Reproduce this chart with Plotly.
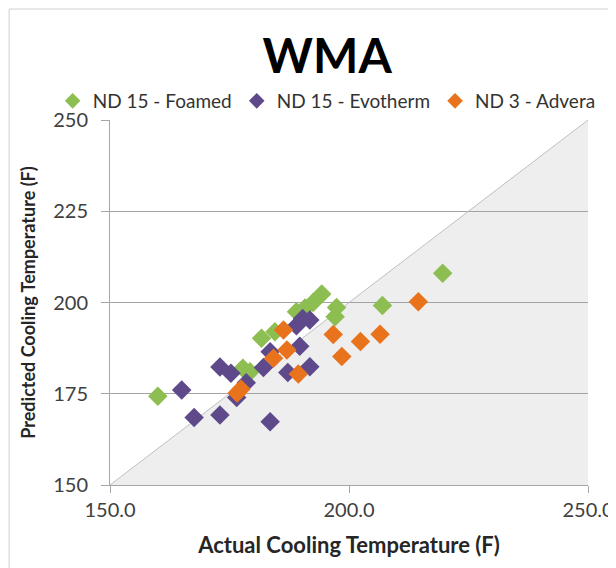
import plotly.graph_objects as go

# ---- data ----
foamed_x = [160.0, 177.8, 179.3, 181.7, 184.5, 189.0, 190.8, 192.5, 194.3, 197.4, 197.1, 207.0, 219.6]
foamed_y = [174.3, 182.0, 181.0, 190.2, 192.0, 197.5, 198.5, 200.0, 202.3, 198.6, 196.1, 199.2, 208.0]

evo_x = [165.0, 167.6, 173.0, 173.0, 175.3, 178.5, 176.5, 183.5, 182.1, 183.5, 187.2, 191.8, 189.7, 190.3, 191.8, 189.0]
evo_y = [176.0, 168.5, 169.2, 182.3, 180.6, 178.0, 174.0, 167.3, 182.2, 186.5, 180.8, 182.4, 188.0, 195.6, 195.2, 193.6]

adv_x = [176.6, 177.4, 184.2, 186.3, 187.0, 189.4, 196.7, 198.5, 202.4, 206.5, 214.5]
adv_y = [175.2, 176.3, 184.7, 192.5, 187.0, 180.4, 191.2, 185.2, 189.3, 191.3, 200.2]

series_names = ["ND 15 - Foamed", "ND 15 - Evotherm", "ND 3 - Advera"]
axis_range = [150, 250]
x_ticks = [150, 200, 250]
y_ticks = [150, 175, 200, 225, 250]

colors = ["#8DBE52", "#5E4A8A", "#E8731C"]
FONT = "Lato, 'Open Sans', sans-serif"

fig = go.Figure()

lo, hi = axis_range
# 1:1 line
fig.add_trace(go.Scatter(
    x=[lo, hi], y=[lo, hi], mode="lines",
    line=dict(color="#BFBFBF", width=1), hoverinfo="skip", showlegend=False))

for name, xs, ys, c in zip(series_names, [foamed_x, evo_x, adv_x], [foamed_y, evo_y, adv_y], colors):
    fig.add_trace(go.Scatter(
        x=xs, y=ys, mode="markers", name=name,
        marker=dict(symbol="diamond", size=15, color=c, line=dict(width=0))))

fig.update_layout(
    width=608, height=560,
    margin=dict(l=102, r=28, t=112, b=83, autoexpand=False),
    paper_bgcolor="white", plot_bgcolor="white",
    font=dict(family=FONT, color="#404040", size=18),
    title=dict(text="<b>WMA</b>", xref="container", x=0.525, xanchor="center",
               yref="container", y=1 - 48 / 560, yanchor="middle",
               font=dict(family=FONT, size=48, color="black")),
    legend=dict(orientation="h", x=-0.12, xanchor="left", y=1.052, yanchor="middle",
                font=dict(family=FONT, size=19, color="#333333"),
                itemwidth=30, tracegroupgap=0, itemsizing="constant",
                bgcolor="rgba(0,0,0,0)"),
    showlegend=True,
    shapes=[
        # shaded region below the 1:1 line (under the gridlines)
        dict(type="path", xref="x", yref="y",
             path=f"M {lo} {lo} L {hi} {hi} L {hi} {lo} Z",
             fillcolor="#EEEEEE", line=dict(width=0), layer="below"),
        # outer chart border (top and left visible)
        dict(type="rect", xref="paper", yref="paper",
             x0=-0.211, x1=1.2, y0=-0.5, y1=1.304,
             line=dict(color="#D0D0D0", width=1), fillcolor="rgba(0,0,0,0)", layer="below"),
    ],
)

fig.update_xaxes(
    range=axis_range, tickvals=x_ticks, tickformat=".1f", automargin=False,
    showgrid=False, zeroline=False,
    showline=True, linecolor="#A6A6A6", linewidth=1,
    ticks="outside", ticklen=7, tickcolor="#A6A6A6",
    tickfont=dict(size=20, color="#404040"),
    title=dict(text="<b>Actual Cooling Temperature (F)</b>", font=dict(size=22, color="#262626"), standoff=17),
)
fig.update_yaxes(
    range=axis_range, tickvals=y_ticks, automargin=False,
    showgrid=True, gridcolor="#A3A3A3", gridwidth=1, zeroline=False,
    showline=True, linecolor="#A6A6A6", linewidth=1,
    ticks="outside", ticklen=8, tickcolor="#A6A6A6", ticklabelstandoff=9,
    tickfont=dict(size=20, color="#404040"),
    title=dict(text="<b>Predicted Cooling Temperature (F)</b>", font=dict(size=18, color="#262626"), standoff=12),
)

fig.write_html("out.html")
